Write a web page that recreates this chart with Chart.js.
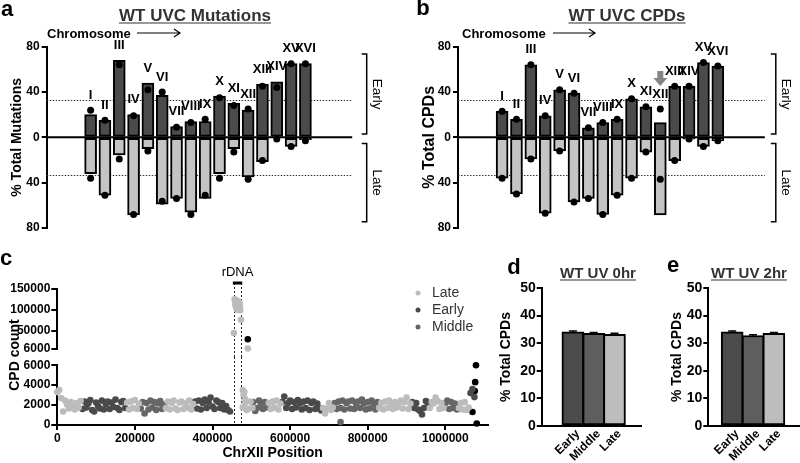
<!DOCTYPE html>
<html>
<head>
<meta charset="utf-8">
<script src="https://cdn.jsdelivr.net/npm/chart.js@4.4.0/dist/chart.umd.min.js"></script>
<style>
  body { margin: 0; background: #fff; }
  #fig { position: relative; width: 800px; height: 463px; overflow: hidden; font-family: "Liberation Sans", Arial, sans-serif; color: #000; }
  #fig canvas { position: absolute; }
  .t { position: absolute; white-space: nowrap; line-height: 1; font-weight: bold; transform: translate(-50%, -50%); }
  .l { position: absolute; white-space: nowrap; line-height: 1; font-weight: bold; transform: translateY(-50%); }
  .panel { font-size: 22px; }
  .head { color: #333; text-decoration: underline; text-underline-offset: 2px; }
  .rot { transform: translate(-50%, -50%) rotate(-90deg); }
</style>
</head>
<body>
<div id="fig">
  <canvas id="chartA" width="400" height="240" style="left:0;top:0"></canvas>
  <canvas id="chartB" width="400" height="240" style="left:400px;top:0"></canvas>
  <canvas id="chartCup" width="500" height="107" style="left:0;top:250px"></canvas>
  <canvas id="chartClow" width="500" height="106" style="left:0;top:357px"></canvas>
  <canvas id="chartD" width="160" height="213" style="left:490px;top:250px"></canvas>
  <canvas id="chartE" width="150" height="213" style="left:650px;top:250px"></canvas>

  <div class="t panel" style="left:7px;top:9px">a</div>
  <div class="t panel" style="left:423px;top:8px">b</div>
  <div class="t panel" style="left:6px;top:258px">c</div>
  <div class="t panel" style="left:514px;top:267px">d</div>
  <div class="t panel" style="left:673px;top:265px">e</div>

  <div class="t head" style="left:195px;top:15px;font-size:17px">WT UVC Mutations</div>
  <div class="t head" style="left:627px;top:15px;font-size:17px">WT UVC CPDs</div>
  <div class="l" style="left:47px;top:33px;font-size:13px">Chromosome</div>
  <div class="l" style="left:462px;top:33px;font-size:13px">Chromosome</div>

  <div class="t rot" style="left:14px;top:355px;font-size:14px">CPD count</div>

  <div class="t head" style="left:598px;top:272px;font-size:15px">WT UV 0hr</div>
  <div class="t head" style="left:749px;top:272px;font-size:15px">WT UV 2hr</div>
</div>

<script>
// ---- panels a / b : share of each chromosome in early vs late domains ----
const chromosomes = ['I', 'II', 'III', 'IV', 'V', 'VI', 'VII', 'VIII', 'IX', 'X', 'XI', 'XII', 'XIII', 'XIV', 'XV', 'XVI'];
const chromTicks = [-80, -40, 0, 40, 80];
const expectedShare = 33.3;

const mutEarly = [20, 15, 68, 20, 48, 37, 9.5, 14, 14, 36.5, 30, 24, 47, 49, 65, 65];
const mutLate = [32, 51, 15.5, 68.5, 10, 59, 54, 66, 54, 32, 10, 35, 21.5, 0, 8, 2];
const mutEarlyDot = [24, 15, 64, 19, 42, 40, 9, 13, 16, 35, 28, 25, 45, 44, 65, 65];
const mutLateDot = [36, 51, 19, 68, 12, 56.5, 54, 68, 51, 36, 13, 37, 20.5, 1.5, 8, 3];

const cpdEarly = [23, 16, 64, 19, 42, 39, 8.5, 13, 16, 34, 27, 13, 45, 45, 66, 63];
const cpdLate = [36, 50, 19, 67, 12, 57, 54, 68, 51, 36, 13, 68.5, 20.5, 1.5, 8, 3];
const cpdEarlyDot = [23, 16, 64, 19, 42, 39, 8.5, 13, 16, 34, 27, 25, 45, 45, 66, 63];
const cpdLateDot = [36, 50, 19, 67, 12, 57, 54, 68, 51, 36, 13, 37, 20.5, 1.5, 8, 3];

// ---- panel c : CPD counts along chrXII (5 kb bins) ----
const binSize = 5000;
const xTicksC = [0, 200000, 400000, 600000, 800000, 1000000];
const yTicksLow = [0, 2000, 4000, 6000];
const yTicksHigh = [6000, 50000, 100000, 150000];
const rdnaStart = 455000;
const rdnaEnd = 474000;

const segTiming = ['Late', 'Early', 'Late', 'Middle', 'Late', 'Early', 'Late', 'Middle', 'Late',
  'Early', 'Late', 'Middle', 'Late', 'Early', 'Late', 'Middle', 'Late', 'Early'];
const segStart = [0, 65000, 180000, 215000, 280000, 355000, 478000, 505000, 545000,
  580000, 685000, 715000, 830000, 915000, 960000, 1000000, 1035000, 1065000];
const segCounts = [
  [3300, 3500, 2700, 1350, 2450, 2050, 1650, 2300, 1900, 1550, 2200, 1750, 2400],
  [1600, 2350, 1750, 2150, 2500, 1500, 1350, 2250, 1900, 1650, 2450, 1550, 2100, 2350, 1600, 2250, 1800, 2550, 1700, 1500, 2300, 2400, 1700],
  [2250, 1550, 2350, 1700, 2500, 1600, 2150],
  [1650, 2300, 1150, 2200, 1550, 2450, 1750, 2300, 1500, 2150, 2400, 1600, 2050],
  [1700, 2350, 1550, 2200, 2450, 1650, 1500, 2250, 2350, 1600, 2150, 1750, 2450, 1550, 2100],
  [2350, 1650, 2450, 1550, 2200, 2550, 1700, 2300, 2750, 1850, 1600, 2450, 2300, 1700, 2200, 1550, 1900, 1500, 1350],
  [1750, 2200, 1500, 1650, 2350, 1700],
  [2300, 1400, 1700, 2450, 2150, 1600, 2300, 1750],
  [2200, 1600, 2350, 1750, 2450, 1550, 2150],
  [2300, 2850, 1700, 2200, 2450, 1600, 2300, 1750, 2500, 2150, 1550, 2350, 1700, 2450, 1500, 2200, 2350, 1600, 2150, 1700, 1450],
  [1700, 1150, 1600, 2200, 1500, 1750],
  [2200, 1600, 2350, 1700, 2450, 1550, 2200, 2350, 1650, 2450, 1600, 2150, 2350, 1700, 2550, 2150, 1550, 2300, 1650, 2450, 2100, 1550, 2300],
  [1700, 2200, 1550, 2350, 1700, 2450, 2150, 1600, 2300, 1750, 2200, 2450, 1650, 2300, 2750, 1600, 2150],
  [2300, 1700, 2200, 1550, 1400, 1050, 1700, 2400, 2150],
  [1700, 2300, 2150, 2750, 2400, 1600, 2200, 1700],
  [2200, 2450, 1600, 2300, 1700, 2150, 1550],
  [1700, 2200, 1550, 2300, 1500, 1750],
  [3200, 3600, 2800]
];
// points off the main band
const lateExtraX = [478000, 480000, 482000, 484000];
const lateExtraY = [3500, 3000, 3300, 2600];
const middleExtraX = [730000];
const middleExtraY = [300];
const rdnaX = [455000, 457000, 458500, 460000, 461000, 462500, 463500, 464500, 466000, 467000, 468000, 469500, 470500, 471500, 473500, 491000];
const rdnaY = [44000, 125000, 112000, 118000, 105000, 122000, 100000, 115000, 108000, 120000, 103000, 116000, 110000, 99000, 76000, 6800];
const otherHighX = [491000];
const otherHighY = [29000];
const otherLowX = [1070000, 1076000, 1077000, 1079000, 1081000];
const otherLowY = [1300, 3400, 4300, 6000, 150];

// ---- panels d / e ----
const timing = ['Early', 'Middle', 'Late'];
const uv0 = [34.1, 33.6, 33.2];
const uv0Err = [0.3, 0.3, 0.4];
const uv2 = [34.1, 32.8, 33.6];
const uv2Err = [0.3, 0.3, 0.3];
const pctTicks = [0, 10, 20, 30, 40, 50];

const darkGrey = '#4b4b4b';
const lightGrey = '#c4c4c4';
const timingColors = { Early: '#4b4b4b', Middle: '#5e5e5e', Late: '#bdbdbd' };
const FONT = '"Liberation Sans", Arial, sans-serif';

Chart.defaults.font.family = FONT;
Chart.defaults.color = '#000';
Chart.defaults.animation = false;
Chart.defaults.responsive = false;
Chart.defaults.plugins.legend.display = false;
Chart.defaults.plugins.tooltip.enabled = false;

function fixTicks(list) {
  return function (scale) {
    scale.ticks = list.map(function (v) { return { value: v }; });
  };
}

/* decorations for the chromosome panels */
function chromDecor(early, earlyDot, opt) {
  return {
    id: 'chromDecor',
    beforeDatasetsDraw(chart) {
      const { ctx, chartArea: a, scales: { y } } = chart;
      ctx.save();
      ctx.strokeStyle = '#333';
      ctx.lineWidth = 1;
      ctx.setLineDash([1.5, 1.5]);
      [expectedShare, -expectedShare].forEach(function (v) {
        const py = Math.round(y.getPixelForValue(v)) + 0.5;
        ctx.beginPath();
        ctx.moveTo(a.left, py);
        ctx.lineTo(a.right, py);
        ctx.stroke();
      });
      ctx.restore();
    },
    afterDatasetsDraw(chart) {
      const { ctx, chartArea: a, scales: { x, y } } = chart;
      ctx.save();
      // zero line
      const y0 = y.getPixelForValue(0);
      ctx.strokeStyle = '#000';
      ctx.lineWidth = 2;
      ctx.beginPath();
      ctx.moveTo(a.left, y0);
      ctx.lineTo(a.right, y0);
      ctx.stroke();

      // chromosome numerals
      ctx.fillStyle = '#000';
      ctx.font = 'bold 13px ' + FONT;
      ctx.textAlign = 'center';
      ctx.textBaseline = 'middle';
      chromosomes.forEach(function (name, i) {
        const top = Math.max(early[i], earlyDot[i]);
        const px = x.getPixelForValue(i);
        const py = y.getPixelForValue(top) - 15;
        ctx.fillText(name, px, py);
        if (name === opt.flag) {
          ctx.fillStyle = '#858585';
          ctx.fillRect(px - 3, py - 23, 6, 8);
          ctx.beginPath();
          ctx.moveTo(px - 7, py - 16);
          ctx.lineTo(px + 7, py - 16);
          ctx.lineTo(px, py - 8);
          ctx.closePath();
          ctx.fill();
          ctx.fillStyle = '#000';
        }
      });

      // Chromosome arrow
      ctx.lineWidth = 1.2;
      ctx.beginPath();
      ctx.moveTo(opt.arrow[0], 33);
      ctx.lineTo(opt.arrow[1], 33);
      ctx.moveTo(opt.arrow[1] - 6, 29);
      ctx.lineTo(opt.arrow[1], 33);
      ctx.lineTo(opt.arrow[1] - 6, 37);
      ctx.stroke();

      // Early / Late brackets
      const bx = a.right + opt.bracket;
      ctx.lineWidth = 1.5;
      ctx.font = '13.5px ' + FONT;
      [['Early', 73.5, 3], ['Late', -5.5, -74.5]].forEach(function (b) {
        const t = y.getPixelForValue(b[1]);
        const bt = y.getPixelForValue(b[2]);
        ctx.beginPath();
        ctx.moveTo(bx - 5, t);
        ctx.lineTo(bx, t);
        ctx.lineTo(bx, bt);
        ctx.lineTo(bx - 5, bt);
        ctx.stroke();
        ctx.save();
        ctx.translate(bx + 10, (t + bt) / 2);
        ctx.rotate(Math.PI / 2);
        ctx.fillText(b[0], 0, 0);
        ctx.restore();
      });
      ctx.restore();
    }
  };
}

function chromChart(id, early, late, earlyDot, lateDot, opt) {
  const barStyle = { barThickness: 12, borderWidth: 2, borderColor: '#000', borderSkipped: false, grouped: false, order: 1 };
  return new Chart(document.getElementById(id), {
    type: 'bar',
    data: {
      datasets: [
        Object.assign({ data: early.map(function (v, i) { return { x: i, y: v }; }), backgroundColor: darkGrey }, barStyle),
        Object.assign({ data: late.map(function (v, i) { return { x: i, y: -v }; }), backgroundColor: lightGrey }, barStyle),
        {
          type: 'scatter',
          data: earlyDot.map(function (v, i) { return { x: i, y: v }; })
            .concat(lateDot.map(function (v, i) { return { x: i, y: -v }; })),
          backgroundColor: '#000', borderWidth: 0, pointRadius: 3.5, order: 0, clip: false
        }
      ]
    },
    options: {
      layout: { padding: opt.padding },
      scales: {
        x: { type: 'linear', min: -0.4, max: 15.6, display: false },
        y: {
          min: -80, max: 80,
          afterBuildTicks: fixTicks(chromTicks),
          afterFit: function (s) { s.width = opt.axisWidth; },
          ticks: { callback: function (v) { return Math.abs(v); }, font: { size: 12, weight: 'bold' }, padding: 2, color: '#000' },
          grid: { drawOnChartArea: false, color: '#000', lineWidth: 2, tickLength: 5 },
          border: { color: '#000', width: 2 },
          title: { display: true, text: opt.title, font: { size: opt.titleSize, weight: 'bold' }, padding: { top: opt.titlePad, bottom: 0 }, color: '#000' }
        }
      }
    },
    plugins: [chromDecor(early, earlyDot, opt)]
  });
}

chromChart('chartA', mutEarly, mutLate, mutEarlyDot, mutLateDot, {
  padding: { left: 4, top: 46.7, right: 47.8, bottom: 12 }, axisWidth: 42.7,
  title: '% Total Mutations', titleSize: 14, titlePad: 4.6,
  arrow: [137, 180], bracket: 14.5, flag: null
});
chromChart('chartB', cpdEarly, cpdLate, cpdEarlyDot, cpdLateDot, {
  padding: { left: 18, top: 46.7, right: 35.2, bottom: 12 }, axisWidth: 40,
  title: '% Total CPDs', titleSize: 16, titlePad: 2.4,
  arrow: [153, 195], bracket: 11, flag: 'XII'
});

// ---- panel c ----
const bandPoints = { Late: [], Early: [], Middle: [] };
segCounts.forEach(function (counts, s) {
  counts.forEach(function (c, j) {
    bandPoints[segTiming[s]].push({ x: segStart[s] + j * binSize, y: c });
  });
});
lateExtraX.forEach(function (x, i) { bandPoints.Late.push({ x: x, y: lateExtraY[i] }); });
middleExtraX.forEach(function (x, i) { bandPoints.Middle.push({ x: x, y: middleExtraY[i] }); });

const pointStyle = { pointRadius: 3.3, borderWidth: 0, clip: false };
const cColors = { Late: '#bcbcbc', Early: '#4a4a4a', Middle: '#666666' };

const tickFontC = { size: 12, weight: 'bold' };
const yAxisC = function (min, max, ticks) {
  return {
    min: min, max: max,
    afterBuildTicks: fixTicks(ticks),
    afterFit: function (s) { s.width = 57.3; },
    ticks: { callback: function (v) { return String(v); }, font: tickFontC, padding: 1, color: '#000' },
    grid: { drawOnChartArea: false, color: '#000', lineWidth: 2, tickLength: 6 },
    border: { color: '#000', width: 2 }
  };
};

function rdnaLines(fromTop) {
  return function (chart) {
    const { ctx, chartArea: a, scales: { x } } = chart;
    ctx.save();
    ctx.strokeStyle = '#222';
    ctx.lineWidth = 1;
    ctx.setLineDash([2, 2]);
    [rdnaStart, rdnaEnd].forEach(function (v) {
      const px = Math.round(x.getPixelForValue(v)) + 0.5;
      ctx.beginPath();
      ctx.moveTo(px, fromTop ? a.top - 6 : 0);
      ctx.lineTo(px, fromTop ? chart.height : a.bottom);
      ctx.stroke();
    });
    ctx.restore();
  };
}

new Chart(document.getElementById('chartCup'), {
  type: 'scatter',
  data: {
    datasets: [
      Object.assign({ label: 'Late', data: rdnaX.map(function (x, i) { return { x: x, y: rdnaY[i] }; }), backgroundColor: cColors.Late }, pointStyle),
      Object.assign({ label: 'Early', data: [], backgroundColor: cColors.Early }, pointStyle),
      Object.assign({ label: 'Middle', data: [], backgroundColor: cColors.Middle }, pointStyle),
      Object.assign({ label: 'other', data: otherHighX.map(function (x, i) { return { x: x, y: otherHighY[i] }; }), backgroundColor: '#000' }, pointStyle)
    ]
  },
  options: {
    layout: { padding: { left: 0, top: 39, right: 12, bottom: 7 } },
    scales: {
      x: { type: 'linear', min: 0, max: 1110000, display: false },
      y: yAxisC(6000, 150000, yTicksHigh)
    }
  },
  plugins: [{
    id: 'rdna',
    beforeDatasetsDraw: rdnaLines(true),
    afterDraw(chart) {
      const { ctx, chartArea: a, scales: { x } } = chart;
      const x1 = x.getPixelForValue(rdnaStart), x2 = x.getPixelForValue(rdnaEnd);
      ctx.save();
      ctx.strokeStyle = '#000';
      ctx.lineWidth = 3;
      ctx.beginPath();
      ctx.moveTo(x1 - 1, a.top - 6);
      ctx.lineTo(x2 + 1, a.top - 6);
      ctx.stroke();
      ctx.fillStyle = '#000';
      ctx.font = '13px ' + FONT;
      ctx.textAlign = 'center';
      ctx.textBaseline = 'middle';
      ctx.fillText('rDNA', (x1 + x2) / 2, a.top - 17);
      // legend
      ctx.textAlign = 'left';
      ctx.font = '14px ' + FONT;
      chart.data.datasets.slice(0, 3).forEach(function (d, i) {
        const ly = a.top + 4 + i * 17;
        ctx.fillStyle = d.backgroundColor;
        ctx.beginPath();
        ctx.arc(a.right - 70, ly, 2.5, 0, Math.PI * 2);
        ctx.fill();
        ctx.fillStyle = '#333';
        ctx.fillText(d.label, a.right - 56, ly);
      });
      ctx.restore();
    }
  }]
});

new Chart(document.getElementById('chartClow'), {
  type: 'scatter',
  data: {
    datasets: [
      Object.assign({ label: 'Late', data: bandPoints.Late, backgroundColor: cColors.Late }, pointStyle),
      Object.assign({ label: 'Early', data: bandPoints.Early, backgroundColor: cColors.Early }, pointStyle),
      Object.assign({ label: 'Middle', data: bandPoints.Middle, backgroundColor: cColors.Middle }, pointStyle),
      Object.assign({ label: 'other', data: otherLowX.map(function (x, i) { return { x: x, y: otherLowY[i] }; }), backgroundColor: '#000' }, pointStyle)
    ]
  },
  options: {
    layout: { padding: { left: 0, top: 6, right: 12, bottom: 0 } },
    scales: {
      x: {
        type: 'linear', min: 0, max: 1110000,
        afterBuildTicks: fixTicks(xTicksC),
        afterFit: function (s) { s.height = 38; },
        ticks: { callback: function (v) { return String(v); }, font: tickFontC, padding: 1, color: '#000', maxRotation: 0 },
        grid: { drawOnChartArea: false, color: '#000', lineWidth: 2, tickLength: 5 },
        border: { color: '#000', width: 2 },
        title: { display: true, text: 'ChrXII Position', font: { size: 14, weight: 'bold' }, padding: { top: 0, bottom: 1 }, color: '#000' }
      },
      y: yAxisC(0, 6000, yTicksLow)
    }
  },
  plugins: [{ id: 'rdnaLow', beforeDatasetsDraw: rdnaLines(false) }]
});

// ---- panels d / e ----
function timingChart(id, vals, err, opt) {
  return new Chart(document.getElementById(id), {
    type: 'bar',
    data: {
      datasets: [{
        data: vals.map(function (v, i) { return { x: i, y: v }; }),
        backgroundColor: timing.map(function (t) { return timingColors[t]; }),
        borderColor: '#000', borderWidth: 2, borderSkipped: false, barThickness: 22
      }]
    },
    options: {
      layout: { padding: opt.padding },
      scales: {
        x: {
          type: 'linear', min: opt.xMin, max: opt.xMax,
          afterBuildTicks: fixTicks([0, 1, 2]),
          afterFit: function (s) { s.height = 37; },
          ticks: { display: false },
          grid: { display: false },
          border: { color: '#000', width: 2 }
        },
        y: {
          min: 0, max: 50,
          afterBuildTicks: fixTicks(pctTicks),
          afterFit: function (s) { s.width = opt.axisWidth; },
          ticks: { font: { size: 14, weight: 'bold' }, padding: 1, color: '#000' },
          grid: { drawOnChartArea: false, color: '#000', lineWidth: 2, tickLength: 5 },
          border: { color: '#000', width: 2 },
          title: { display: true, text: '% Total CPDs', font: { size: 14, weight: 'bold' }, padding: { top: 3.6, bottom: 0 }, color: '#000' }
        }
      }
    },
    plugins: [{
      id: 'errBarsAndLabels',
      afterDatasetsDraw(chart) {
        const { ctx, chartArea: a, scales: { x, y } } = chart;
        ctx.save();
        ctx.strokeStyle = '#000';
        ctx.lineWidth = 1.5;
        vals.forEach(function (v, i) {
          const px = x.getPixelForValue(i);
          const top = y.getPixelForValue(v + err[i]);
          const bot = y.getPixelForValue(v - err[i]);
          ctx.beginPath();
          ctx.moveTo(px, top); ctx.lineTo(px, bot);
          ctx.moveTo(px - 4, top); ctx.lineTo(px + 4, top);
          ctx.stroke();
        });
        // rotated category labels
        ctx.fillStyle = '#000';
        ctx.font = 'bold 12px ' + FONT;
        ctx.textAlign = 'right';
        ctx.textBaseline = 'middle';
        timing.forEach(function (t, i) {
          ctx.save();
          ctx.translate(x.getPixelForValue(i) + 5, a.bottom + 6);
          ctx.rotate(-Math.PI / 4);
          ctx.fillText(t, 0, 0);
          ctx.restore();
        });
        ctx.restore();
      }
    }]
  });
}

timingChart('chartD', uv0, uv0Err, { padding: { left: 4, top: 38, right: 8.5, bottom: 0 }, axisWidth: 47.7, xMin: -0.7, xMax: 2.5 });
timingChart('chartE', uv2, uv2Err, { padding: { left: 15, top: 38, right: 1, bottom: 0 }, axisWidth: 43.3, xMin: -0.42, xMax: 2.48 });
</script>
</body>
</html>
